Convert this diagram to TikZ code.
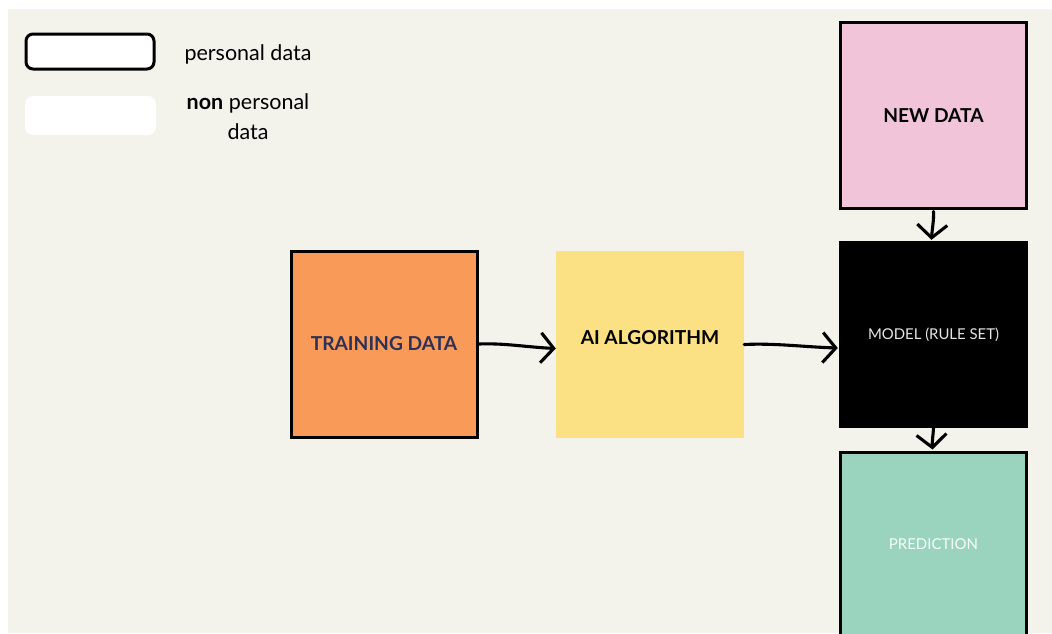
\documentclass[tikz,border=0pt]{standalone}
\usepackage{fontspec}
\setmainfont{Lato}
\usetikzlibrary{arrows.meta}
\definecolor{bg}{HTML}{F3F2EB}
\definecolor{orangefill}{HTML}{FA9A58}
\definecolor{yellowfill}{HTML}{FBE084}
\definecolor{pinkfill}{HTML}{F2C4DA}
\definecolor{tealfill}{HTML}{9AD4BE}
\definecolor{navytext}{HTML}{2D3156}
\definecolor{lighttext}{HTML}{E6E6E6}
\begin{document}
\begin{tikzpicture}[x=1pt,y=-1pt,
  sq/.style={minimum width=186pt,minimum height=186pt,inner sep=0pt,font=\fontsize{19.2}{22}\selectfont\bfseries},
  bordered/.style={draw=black,line width=3pt},
  arr/.style={line width=3.1pt,line cap=round,-{Straight Barb[length=13pt,width=30pt,line width=3.1pt]}},
  legtext/.style={font=\fontsize{21.5}{30}\selectfont,align=center}]
\useasboundingbox (0,0) rectangle (1052,633);
\fill[white] (0,0) rectangle (1052,633);
\fill[bg] (8,9) rectangle (1052,633);
\clip (0,0) rectangle (1052,633);
% legend
\node[draw=black,line width=3pt,fill=white,rounded corners=7pt,minimum width=128pt,minimum height=35pt] (legp) at (90,51.5) {};
\node[fill=white,rounded corners=8pt,minimum width=131pt,minimum height=39pt,inner sep=0pt] (legn) at (90.5,115.5) {};
\node[legtext] (legptext) at (248,54) {personal data};
\node[legtext] (legntext) at (248,117) {\textbf{non} personal\\data};
% main boxes
\node[sq,bordered,fill=orangefill,text=navytext] (train) at (384,344) {TRAINING DATA};
\node[sq,fill=yellowfill,minimum width=188pt,minimum height=187pt] (algo) at (650,344.5) {};
\node[font=\fontsize{19.2}{22}\selectfont\bfseries] (algotext) at (650,338) {AI ALGORITHM};
\node[sq,bordered,fill=pinkfill] (newd) at (933.5,115.5) {NEW DATA};
\node[sq,fill=black,text=lighttext,minimum width=189pt,minimum height=187pt,font=\fontsize{14.9}{17}\selectfont] (model) at (933.5,334.5) {\raisebox{-1pt}{MODEL (RULE SET)}};
\node[sq,draw=black,line width=2.5pt,fill=tealfill,anchor=north,minimum height=200pt] (pred) at (933.5,451) {};
\node[text=white!92!tealfill,font=\fontsize{15}{17}\selectfont] (predtext) at (933.5,544) {PREDICTION};
% arrows
\draw[arr] (train.east) .. controls (505,343) and (525,347) .. ([yshift=-4pt]algo.west);
\draw[arr] (algo.east) .. controls (775,343) and (805,347) .. ([yshift=-13.5pt,xshift=-1pt]model.west);
\draw[arr] ([yshift=-1.5pt]newd.south) .. controls (934,220) and (932,230) .. ([yshift=1pt,xshift=-2pt]model.north);
\draw[arr] (model.south) .. controls (933,436) and (932,442) .. ([yshift=1.5pt,xshift=-1pt]pred.north);
\end{tikzpicture}
\end{document}
